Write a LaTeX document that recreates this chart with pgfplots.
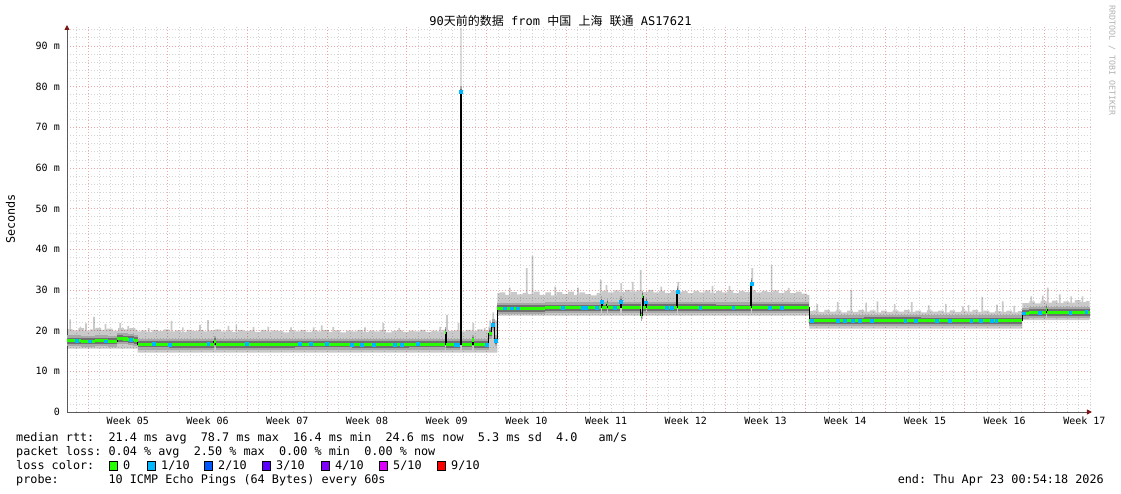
\documentclass[border=0pt]{standalone}
\usepackage{fontspec}
\setmainfont{DejaVu Sans}
\setmonofont{DejaVu Sans Mono}
\newfontfamily\cjk{Noto Sans CJK SC}
\usepackage{pgfplots}
\usepackage{pgfplotstable}
\pgfplotsset{compat=1.18}
\usepgfplotslibrary{fillbetween}
\usetikzlibrary{arrows.meta}

\definecolor{lossA}{HTML}{26FF00}
\definecolor{lossB}{HTML}{00B8FF}
\definecolor{lossC}{HTML}{0059FF}
\definecolor{lossD}{HTML}{5E00FF}
\definecolor{lossE}{HTML}{7E00FF}
\definecolor{lossF}{HTML}{DD00FF}
\definecolor{lossJ}{HTML}{FF0000}
\definecolor{majgrid}{RGB}{240,165,165}
\definecolor{mingrid}{RGB}{212,212,212}
\definecolor{axcol}{RGB}{90,90,90}
\definecolor{arrowcol}{RGB}{128,20,20}
\definecolor{smokeM}{RGB}{168,168,168}
\definecolor{smokeD}{RGB}{112,112,112}

% upper edge of the smoke (days, ms)
\pgfplotstableread{
x y
0 20.4
0.2 22.8
0.35 20.4
0.5 20.1
1 20.6
1.1 21.0
1.25 20.6
1.5 20.0
1.6 21.8
1.75 20.0
2 20.3
2.3 23.4
2.45 20.3
2.5 20.7
3 20.2
3.3 21.6
3.45 20.2
3.5 20.5
4 20.0
4.5 20.6
4.6 21.9
4.75 20.6
5 20.3
5.3 21.2
5.45 20.3
5.5 20.6
6 20.2
6.2 19.8
6.5 20.1
7 19.7
7.1 20.6
7.25 19.7
7.5 20.2
8 19.9
8.5 20.3
9 19.8
9.1 22.4
9.25 19.8
9.5 20.1
10 19.7
10.1 20.8
10.25 19.7
10.5 20.2
11 19.9
11.5 20.2
11.6 21.4
11.75 20.2
12 19.8
12.3 22.6
12.45 19.8
12.5 20.1
13 20.3
13.5 19.8
14 20.1
14.1 21.2
14.25 20.1
14.5 19.7
14.8 21.5
14.95 19.7
15 20.2
15.5 19.9
16 20.1
16.3 20.9
16.45 20.1
16.5 19.7
17 20.2
17.5 19.8
17.6 21.0
17.75 19.8
18 20.1
18.5 19.9
19 19.6
19.5 20.1
19.6 20.8
19.75 20.1
20 19.8
20.5 20.2
21 19.7
21.5 20.0
21.6 20.8
21.75 20.0
22 19.8
22.3 21.3
22.45 19.8
22.5 20.2
23 19.7
23.3 20.9
23.45 19.7
23.5 20.1
24 19.6
24.5 20.0
25 19.8
25.5 20.2
26 19.7
26.1 20.8
26.25 19.7
26.5 20.0
27 19.8
27.5 20.2
27.7 21.9
27.85 20.2
28 19.6
28.5 19.9
29 20.1
29.1 20.7
29.25 20.1
29.5 19.7
30 20.0
30.5 19.8
31 20.2
31.5 19.7
32 20.0
32.5 19.8
32.7 20.9
32.85 19.8
33 20.2
33.3 23.9
33.45 20.2
33.5 19.9
34 20.1
34.3 21.9
34.45 20.1
34.5 19.8
34.55 94.5
34.65 19.8
35 20.2
35.5 19.9
35.6 21.9
35.75 19.9
36 20.3
36.5 20.0
36.6 20.7
36.75 20.0
37 21.0
37.1 22.5
37.25 21.0
37.35 24.5
37.5 22.5
37.8 29.2
38 29.4
38.5 28.8
38.8 30.6
38.95 28.8
39 29.5
39.5 28.9
40 29.3
40.3 35.4
40.45 29.3
40.5 29.0
40.8 38.4
40.95 29.0
41 29.6
41.5 28.8
42 29.4
42.5 28.7
42.8 30.8
42.95 28.7
43 29.5
43.5 29.0
44 29.6
44.5 28.8
44.8 30.6
44.95 28.8
45 29.4
45.5 29.0
46 28.7
46.5 29.3
46.8 32.5
46.95 29.3
47 29.8
47.3 31.2
47.45 29.8
47.5 29.4
48 29.9
48.5 29.5
48.6 31.7
48.75 29.5
49 30.0
49.5 29.6
49.6 32.0
49.75 29.6
50 29.9
50.3 34.9
50.45 29.9
50.5 29.5
51 30.0
51.5 29.4
52 29.8
52.1 30.8
52.25 29.8
52.5 29.3
53 29.9
53.5 29.5
53.6 32.0
53.75 29.5
54 29.7
54.5 29.2
55 29.8
55.5 29.4
56 29.9
56.5 29.3
56.6 31.0
56.75 29.3
57 29.7
57.5 29.4
58 29.9
58.1 31.0
58.25 29.9
58.5 29.3
59 29.8
59.5 29.5
60 29.9
60.1 35.4
60.25 29.9
60.5 29.4
61 29.8
61.5 29.5
61.8 36.1
61.95 29.5
62 29.9
62.5 29.3
63 29.7
63.3 30.5
63.45 29.7
63.5 29.2
64 29.6
64.5 29.1
65 28.8
65.2 24.8
65.5 25.0
65.8 26.5
65.95 25.0
66 24.6
66.5 25.1
67 24.7
67.5 25.0
67.6 27.1
67.75 25.0
68 24.5
68.5 24.9
68.8 30.0
68.95 24.9
69 24.6
69.5 25.1
70 24.7
70.1 26.9
70.25 24.7
70.5 25.0
71 24.5
71.1 27.2
71.25 24.5
71.5 24.9
72 24.6
72.5 25.0
72.6 26.5
72.75 25.0
73 24.7
73.5 25.1
74 24.6
74.1 27.0
74.25 24.6
74.5 24.9
75 24.5
75.5 25.0
75.6 26.2
75.75 25.0
76 24.7
76.5 24.9
77 24.5
77.1 26.6
77.25 24.5
77.5 25.0
78 24.6
78.5 24.9
78.6 26.0
78.75 24.9
79 24.7
79.1 26.3
79.25 24.7
79.5 25.1
80 24.6
80.3 28.3
80.45 24.6
80.5 24.9
81 24.5
81.5 24.8
81.6 26.4
81.75 24.8
82 24.6
82.1 27.2
82.25 24.6
82.5 24.9
83 24.5
83.1 26.1
83.25 24.5
83.5 24.8
83.9 26.8
84 26.8
84.5 27.2
84.6 28.4
84.75 27.2
85 26.7
85.5 27.3
85.6 28.6
85.75 27.3
86 26.9
86.05 30.6
86.2 26.9
86.5 27.4
87 26.8
87.1 28.9
87.25 26.8
87.5 27.2
88 26.9
88.1 28.4
88.25 26.9
88.5 27.5
89 27.0
89.1 28.4
89.25 27.0
89.5 27.3
89.8 27.3
}\hitab

% lower edge of the smoke
\pgfplotstableread{
x y
0 15.6
6.2 14.6
37.8 23.7
50.4 22.9
50.6 23.7
65.2 20.5
83.9 22.6
89.8 22.6
}\lotab

% median rtt
\pgfplotstableread{
x y
0 17.5
1.2 17.4
2.5 17.5
3.6 17.4
4.4 18.1
4.9 17.95
5.4 17.8
5.9 17.6
6.2 16.7
9.0 16.6
12.9 17.3
13.05 16.6
20.0 16.7
25.0 16.6
30.0 16.7
33.2 19.5
33.3 16.6
34.55 78.7
34.65 16.7
35.6 17.7
35.7 16.6
37.05 19.4
37.3 21.4
37.55 17.5
37.8 25.5
42.0 25.6
46.9 27.1
47.0 25.6
47.4 26.5
47.5 25.6
48.6 27.1
48.7 25.7
50.4 23.8
50.5 28.4
50.6 25.6
50.8 27.0
50.9 25.7
53.55 29.6
53.65 25.7
57.0 25.6
60.05 31.6
60.15 25.7
65.2 22.4
70.0 22.5
75.0 22.4
80.0 22.4
83.9 24.3
84.5 24.5
86.0 25.3
86.1 24.5
89.8 24.6
}\medtab

% samples with 1/10 loss
\pgfplotstableread{
x y
0.88 17.5
2.0 17.4
3.4 17.4
5.6 17.8
7.6 16.7
9.0 16.6
12.4 16.7
15.8 16.7
20.4 16.7
21.4 16.7
22.8 16.7
25.0 16.6
25.9 16.6
26.9 16.6
28.8 16.6
29.4 16.6
30.8 16.7
34.1 16.6
34.3 16.6
34.6 78.7
36.85 16.6
37.4 21.4
37.64 17.5
38.45 25.5
39.05 25.5
39.6 25.5
43.55 25.6
45.3 25.6
45.6 25.6
46.5 25.6
46.95 27.1
48.1 25.6
48.65 27.1
50.85 27.0
52.65 25.7
53.1 25.7
53.6 29.6
55.6 25.7
58.5 25.7
60.1 31.6
61.7 25.7
62.75 25.7
65.4 22.4
67.7 22.4
68.3 22.4
69.0 22.4
69.6 22.4
70.65 22.5
73.6 22.4
74.5 22.4
76.4 22.4
77.5 22.4
79.4 22.4
80.2 22.4
81.2 22.4
81.6 22.4
84.0 24.3
85.4 24.5
88.1 24.5
89.5 24.6
}\bluetab

\begin{document}
\frenchspacing
\begin{tikzpicture}
\path (0,0) rectangle (1121pt,494pt);
\begin{axis}[
  at={(67pt,82pt)}, anchor=south west,
  scale only axis, width=1025pt, height=387pt,
  xmin=0, xmax=90, ymin=0, ymax=95.16,
  enlargelimits=false,
  axis lines=left,
  axis line style={axcol, line width=0.9pt},
  every outer x axis line/.append style={-{Triangle[length=5pt,width=5pt,color=arrowcol]}},
  every outer y axis line/.append style={-{Triangle[length=5pt,width=5pt,color=arrowcol]}},
  xtick={5.34,12.34,19.34,26.34,33.34,40.34,47.34,54.34,61.34,68.34,75.34,82.34,89.34},
  xticklabels={Week 05,Week 06,Week 07,Week 08,Week 09,Week 10,Week 11,Week 12,Week 13,Week 14,Week 15,Week 16,Week 17},
  xmajorgrids=false,
  minor xtick={0.84,1.84,...,89.84},
  xminorgrids=true,
  extra x ticks={1.84,8.84,15.84,22.84,29.84,36.84,43.84,50.84,57.84,64.84,71.84,78.84,85.84},
  extra x tick style={xmajorgrids=true, xticklabel={}, major tick length=0pt},
  ytick={0,10,...,90},
  yticklabels={0,{10 m},{20 m},{30 m},{40 m},{50 m},{60 m},{70 m},{80 m},{90 m}},
  minor ytick={2,4,6,8,12,14,16,18,22,24,26,28,32,34,36,38,42,44,46,48,52,54,56,58,62,64,66,68,72,74,76,78,82,84,86,88,92,94},
  ymajorgrids=true, yminorgrids=true,
  major grid style={majgrid, line width=0.7pt, dash pattern=on 1pt off 2pt},
  minor grid style={mingrid, line width=0.7pt, dash pattern=on 1pt off 2pt},
  major tick length=0pt, minor tick length=0pt,
  tick label style={font=\ttfamily\fontsize{10}{10}\selectfont, text=black},
  yticklabel style={anchor=east, inner sep=0pt, xshift=-7pt},
  xticklabel style={anchor=north, inner sep=0pt, yshift=-5pt},
]
\addplot[name path=hi, draw=none, const plot, forget plot] table[x=x,y=y]{\hitab};
\addplot[name path=lo, draw=none, const plot, forget plot] table[x=x,y=y]{\lotab};
\addplot[fill=black, fill opacity=0.21, draw=none] fill between[of=hi and lo];
\addplot[jump mark left, draw=smokeM, line width=11pt] table[x=x,y=y]{\medtab};
\addplot[jump mark left, draw=smokeD, line width=6.5pt] table[x=x,y=y]{\medtab};
\addplot[const plot, draw=black, line width=1pt] table[x=x,y=y]{\medtab};
\addplot[jump mark left, draw=lossA, line width=3.1pt] table[x=x,y=y]{\medtab};
\addplot[only marks, mark=square*, mark size=1.4pt, mark options={draw=lossB, fill=lossB}] table[x=x,y=y]{\bluetab};
\end{axis}

% title
\node[anchor=base, inner sep=0pt, font=\ttfamily\fontsize{12}{12}\selectfont] at (560.5pt,468pt)
  {90{\cjk 天前的数据} from {\cjk 中国} {\cjk 上海} {\cjk 联通} AS17621};
% y label
\node[rotate=90, inner sep=0pt, font=\ttfamily\fontsize{11.8}{11.8}\selectfont] at (10.5pt,275pt) {Seconds};
% watermark
\node[rotate=-90, anchor=west, inner sep=0pt, text=black!30, font=\ttfamily\fontsize{8.3}{8.3}\selectfont] at (1112pt,489pt) {RRDTOOL / TOBI OETIKER};

% legend text
\begin{scope}[every node/.style={inner sep=0pt, font=\ttfamily\fontsize{11.8}{11.8}\selectfont}]
\node[anchor=base west] at (16pt,52pt) {median rtt:\ \ 21.4 ms avg\ \ 78.7 ms max\ \ 16.4 ms min\ \ 24.6 ms now\ \ 5.3 ms sd\ \ 4.0\ \ \ am/s};
\node[anchor=base west] at (16pt,38pt) {packet loss: 0.04 \% avg\ \ 2.50 \% max\ \ 0.00 \% min\ \ 0.00 \% now};
\node[anchor=base west] at (16pt,24pt) {loss color:};
\node[anchor=base west] at (16pt,10pt) {probe:\ \ \ \ \ \ \ 10 ICMP Echo Pings (64 Bytes) every 60s};
\node[anchor=base east] at (1104pt,10pt) {end: Thu Apr 23 00:54:18 2026};
\filldraw[fill=lossA, draw=black, line width=0.8pt] (109pt,24pt) rectangle +(8.5pt,8.5pt);
\node[anchor=base west] at (123pt,24pt) {0};
\filldraw[fill=lossB, draw=black, line width=0.8pt] (147pt,24pt) rectangle +(8.5pt,8.5pt);
\node[anchor=base west] at (161pt,24pt) {1/10};
\filldraw[fill=lossC, draw=black, line width=0.8pt] (204pt,24pt) rectangle +(8.5pt,8.5pt);
\node[anchor=base west] at (218pt,24pt) {2/10};
\filldraw[fill=lossD, draw=black, line width=0.8pt] (262pt,24pt) rectangle +(8.5pt,8.5pt);
\node[anchor=base west] at (276pt,24pt) {3/10};
\filldraw[fill=lossE, draw=black, line width=0.8pt] (321pt,24pt) rectangle +(8.5pt,8.5pt);
\node[anchor=base west] at (335pt,24pt) {4/10};
\filldraw[fill=lossF, draw=black, line width=0.8pt] (379pt,24pt) rectangle +(8.5pt,8.5pt);
\node[anchor=base west] at (393pt,24pt) {5/10};
\filldraw[fill=lossJ, draw=black, line width=0.8pt] (437pt,24pt) rectangle +(8.5pt,8.5pt);
\node[anchor=base west] at (451pt,24pt) {9/10};
\end{scope}
\end{tikzpicture}
\end{document}
